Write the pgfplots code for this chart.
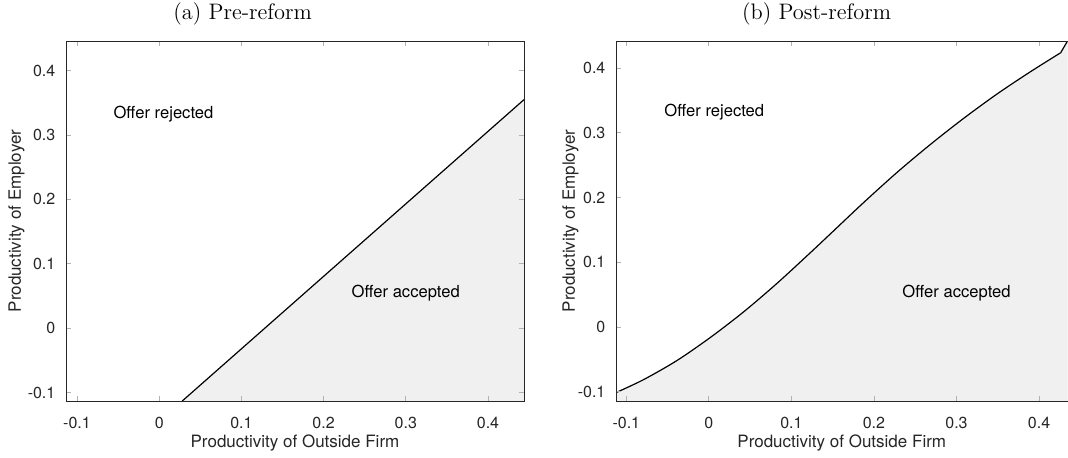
\documentclass[border=0pt]{standalone}
\usepackage{fontspec}
\usepackage{pgfplots}
\usepackage{pgfplotstable}
\pgfplotsset{compat=1.18}
\newfontfamily\hv{TeX Gyre Heros}
\definecolor{acc}{RGB}{240,240,240}
\definecolor{axc}{RGB}{38,38,38}

\pgfplotstableread{
x y
0.028 -0.113
0.4438 0.355
}\precurve

\pgfplotstableread{
x y
-0.1125 -0.1014
-0.079 -0.0813
-0.0386 -0.0518
0.0017 -0.0163
0.042 0.0232
0.0825 0.0673
0.1228 0.1145
0.147 0.1435
0.1873 0.1919
0.2277 0.2384
0.268 0.2815
0.3084 0.3219
0.3487 0.3594
0.389 0.3937
0.4262 0.4235
}\postcurve

\pgfplotstableread{
x y
0.4262 0.4235
0.4345 0.4416
}\postend

\pgfplotsset{mystyle/.style={
 scale only axis, height=180pt,
 axis on top,
 tick align=inside, major tick length=2.5pt,
 tick style={black!30, line width=0.4pt},
 axis line style={axc, line width=0.5pt, -},
 xtick={-0.1,0,0.1,0.2,0.3,0.4}, ytick={-0.1,0,0.1,0.2,0.3,0.4},
 ticklabel style={font=\hv\fontsize{8}{9}\selectfont, text=axc},
 /pgf/number format/assume math mode=true,
 xticklabel style={yshift=-4.3pt},
 yticklabel style={xshift=-1.8pt},
 label style={font=\hv\fontsize{8.5}{10}\selectfont, text=axc},
 xlabel={Productivity of Outside Firm},
 ylabel={Productivity of Employer},
 xlabel style={at={(axis description cs:0.5,-0.116)}, anchor=center},
 clip=true,
}}

\begin{document}
\begin{tikzpicture}
\useasboundingbox (0pt,0pt) rectangle (534pt,-228.5pt);
\node[font=\fontsize{11.2}{13}\selectfont] at (121.3pt,-7pt) {(a) Pre-reform};
\node[font=\fontsize{11.2}{13}\selectfont] at (408.3pt,-7pt) {(b) Post-reform};

\begin{axis}[mystyle, at={(33pt,-20.5pt)}, anchor=north west, width=229pt,
 xmin=-0.1134, xmax=0.4438, ymin=-0.113, ymax=0.446,
 ylabel style={at={(axis description cs:-0.108,0.5)}, anchor=center}]
\addplot[fill=acc, draw=none] coordinates {(0.028,-0.113) (0.4438,0.355) (0.4438,-0.113)} -- cycle;
\addplot[black, line width=0.6pt] table[x=x,y=y] {\precurve};
\node[anchor=west, inner sep=0pt, font=\hv\fontsize{8.3}{10}\selectfont] at (axis cs:-0.056,0.332) {Offer rejected};
\node[anchor=west, inner sep=0pt, font=\hv\fontsize{8.3}{10}\selectfont] at (axis cs:0.2336,0.055) {Offer accepted};
\end{axis}

\begin{axis}[mystyle, at={(308pt,-20.5pt)}, anchor=north west, width=225.75pt,
 axis x line*=box, axis y line*=left,
 xmin=-0.1125, xmax=0.4345, ymin=-0.1144, ymax=0.4416,
 ylabel style={at={(axis description cs:-0.101,0.5)}, anchor=center}]
\addplot[fill=acc, draw=none] coordinates {(-0.1125,-0.1144) (-0.1125,-0.1014) (-0.079,-0.0813) (-0.0386,-0.0518) (0.0017,-0.0163) (0.042,0.0232) (0.0825,0.0673) (0.1228,0.1145) (0.147,0.1435) (0.1873,0.1919) (0.2277,0.2384) (0.268,0.2815) (0.3084,0.3219) (0.3487,0.3594) (0.389,0.3937) (0.4262,0.4235) (0.4345,0.4416) (0.4345,-0.1144)} -- cycle;
\addplot[black, line width=0.6pt, smooth, tension=0.5] table[x=x,y=y] {\postcurve};
\addplot[black, line width=0.6pt] table[x=x,y=y] {\postend};
\node[anchor=west, inner sep=0pt, font=\hv\fontsize{8.3}{10}\selectfont] at (axis cs:-0.0544,0.332) {Offer rejected};
\node[anchor=west, inner sep=0pt, font=\hv\fontsize{8.3}{10}\selectfont] at (axis cs:0.234,0.052) {Offer accepted};
\end{axis}
\end{tikzpicture}
\end{document}
